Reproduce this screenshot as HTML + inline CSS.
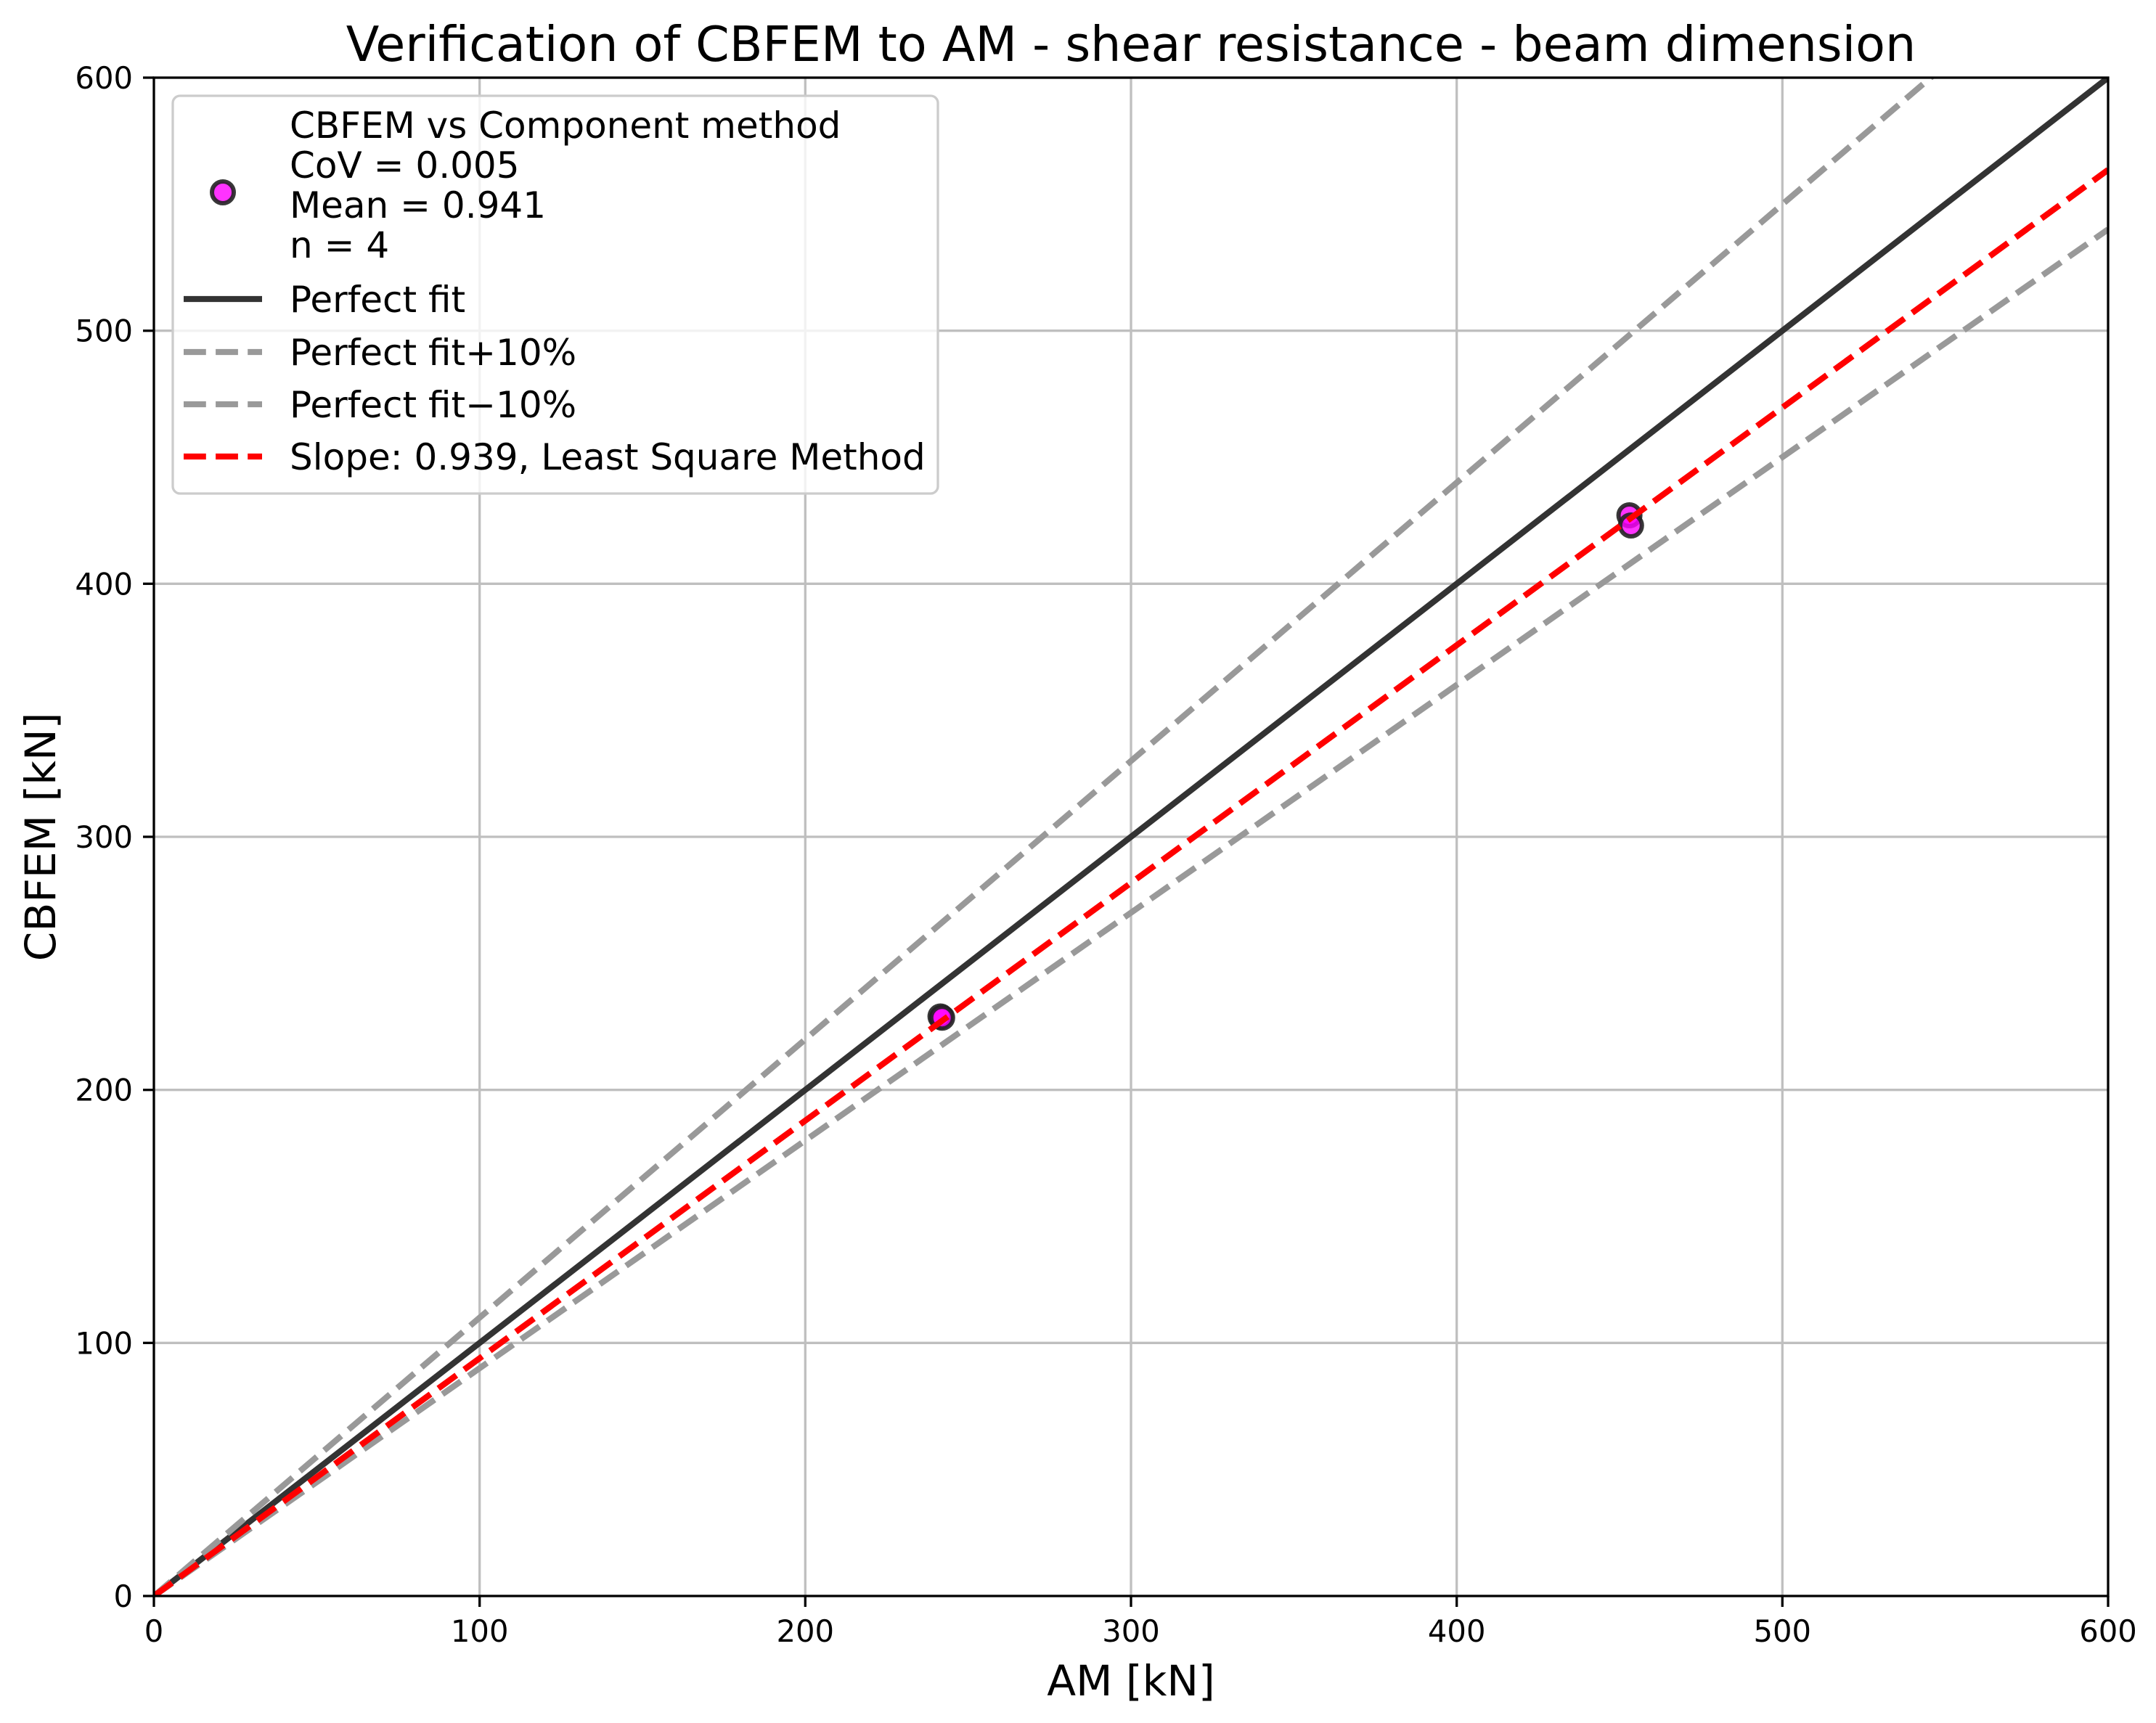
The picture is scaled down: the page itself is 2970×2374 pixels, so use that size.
<!DOCTYPE html>
<html><head><meta charset="utf-8"><style>html,body{margin:0;padding:0;background:#fff}svg{display:block}</style></head>
<body>
<svg width="2970" height="2374" viewBox="0 0 2970 2374" xmlns="http://www.w3.org/2000/svg" font-family="DejaVu Sans, Liberation Sans, sans-serif">
<rect width="2970" height="2374" fill="#fff"/>
<defs><clipPath id="c"><rect x="212" y="107" width="2692" height="2092"/></clipPath></defs>
<g stroke="#b0b0b0" stroke-width="3.3" opacity="0.8">
<line x1="660.7" y1="107" x2="660.7" y2="2199"/><line x1="1109.3" y1="107" x2="1109.3" y2="2199"/>
<line x1="1558" y1="107" x2="1558" y2="2199"/><line x1="2006.7" y1="107" x2="2006.7" y2="2199"/>
<line x1="2455.3" y1="107" x2="2455.3" y2="2199"/>
<line x1="212" y1="1850.3" x2="2904" y2="1850.3"/><line x1="212" y1="1501.7" x2="2904" y2="1501.7"/>
<line x1="212" y1="1153" x2="2904" y2="1153"/><line x1="212" y1="804.3" x2="2904" y2="804.3"/>
<line x1="212" y1="455.7" x2="2904" y2="455.7"/>
</g>
<g clip-path="url(#c)">
<g fill="#ff00ff" fill-opacity="0.8" stroke="#222" stroke-opacity="0.9" stroke-width="6">
<circle cx="1295.6" cy="1400.5" r="15"/><circle cx="1297.8" cy="1402.2" r="15"/>
<circle cx="2244.6" cy="710" r="15"/><circle cx="2246.8" cy="724" r="15"/>
</g>
<line x1="212" y1="2199" x2="2904" y2="107" stroke="#333" stroke-width="8.3"/>
<line x1="212" y1="2199" x2="2904" y2="-102" stroke="#999" stroke-width="8.3" stroke-dasharray="30.8 13.3"/>
<line x1="212" y1="2199" x2="2904" y2="316" stroke="#999" stroke-width="8.3" stroke-dasharray="30.8 13.3"/>
<line x1="212" y1="2199" x2="2904" y2="234" stroke="#ff0000" stroke-width="8.3" stroke-dasharray="30.8 13.3"/>
</g>
<rect x="212" y="107" width="2692" height="2092" fill="none" stroke="#000" stroke-width="3.3"/>
<g stroke="#000" stroke-width="3.3">
<line x1="212" y1="2199" x2="212" y2="2214"/><line x1="660.7" y1="2199" x2="660.7" y2="2214"/><line x1="1109.3" y1="2199" x2="1109.3" y2="2214"/><line x1="1558" y1="2199" x2="1558" y2="2214"/><line x1="2006.7" y1="2199" x2="2006.7" y2="2214"/><line x1="2455.3" y1="2199" x2="2455.3" y2="2214"/><line x1="2904" y1="2199" x2="2904" y2="2214"/>
<line x1="197" y1="2199" x2="212" y2="2199"/><line x1="197" y1="1850.3" x2="212" y2="1850.3"/><line x1="197" y1="1501.7" x2="212" y2="1501.7"/><line x1="197" y1="1153" x2="212" y2="1153"/><line x1="197" y1="804.3" x2="212" y2="804.3"/><line x1="197" y1="455.7" x2="212" y2="455.7"/><line x1="197" y1="107" x2="212" y2="107"/>
</g>
<g font-size="41.7" fill="#000" text-anchor="middle">
<text x="212" y="2262">0</text><text x="660.7" y="2262">100</text><text x="1109.3" y="2262">200</text><text x="1558" y="2262">300</text><text x="2006.7" y="2262">400</text><text x="2455.3" y="2262">500</text><text x="2904" y="2262">600</text>
</g>
<g font-size="41.7" fill="#000" text-anchor="end">
<text x="183" y="2214">0</text><text x="183" y="1865.3">100</text><text x="183" y="1516.7">200</text><text x="183" y="1168">300</text><text x="183" y="819.3">400</text><text x="183" y="470.7">500</text><text x="183" y="122">600</text>
</g>
<text x="1558" y="84" font-size="66.7" text-anchor="middle">Verification of CBFEM to AM - shear resistance - beam dimension</text>
<text x="1558" y="2336" font-size="58.3" text-anchor="middle">AM [kN]</text>
<text transform="translate(76,1153) rotate(-90)" font-size="58.3" text-anchor="middle">CBFEM [kN]</text>
<rect x="238" y="132" width="1054" height="548" rx="10" fill="#fff" fill-opacity="0.8" stroke="#ccc" stroke-width="3.3"/>
<circle cx="307" cy="265" r="15" fill="#ff00ff" fill-opacity="0.8" stroke="#222" stroke-opacity="0.9" stroke-width="6"/>
<line x1="253" y1="412" x2="361" y2="412" stroke="#333" stroke-width="8.3"/>
<line x1="253" y1="485" x2="361" y2="485" stroke="#999" stroke-width="8.3" stroke-dasharray="30.8 13.3"/>
<line x1="253" y1="557" x2="361" y2="557" stroke="#999" stroke-width="8.3" stroke-dasharray="30.8 13.3"/>
<line x1="253" y1="629" x2="361" y2="629" stroke="#ff0000" stroke-width="8.3" stroke-dasharray="30.8 13.3"/>
<g font-size="50" fill="#000">
<text x="399" y="190">CBFEM vs Component method</text>
<text x="399" y="245">CoV = 0.005</text>
<text x="399" y="300">Mean = 0.941</text>
<text x="399" y="355">n = 4</text>
<text x="399" y="430">Perfect fit</text>
<text x="399" y="503">Perfect fit+10%</text>
<text x="399" y="575">Perfect fit−10%</text>
<text x="399" y="647">Slope: 0.939, Least Square Method</text>
</g>
</svg>
</body></html>
